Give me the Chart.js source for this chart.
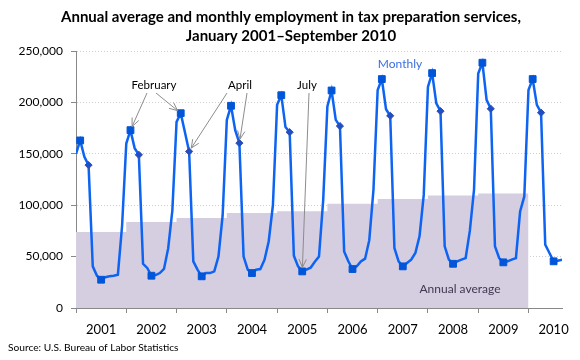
<!DOCTYPE html>
<html>
<head>
<meta charset="utf-8">
<script src="https://cdn.jsdelivr.net/npm/chart.js@4/dist/chart.umd.min.js"></script>
<style>
  html, body { margin: 0; padding: 0; background: #fff; }
  #wrap { width: 580px; height: 360px; }
</style>
</head>
<body>
<div id="wrap"><canvas id="grafik" width="580" height="360"></canvas></div>
<script>
// year labels on the x axis
const years = ["2001", "2002", "2003", "2004", "2005", "2006", "2007", "2008", "2009", "2010"];

// annual average employment, 2001-2009
const annualAvg = [74000, 83700, 87500, 92300, 94200, 101300, 106100, 109400, 111500];

// monthly employment, January 2001 - September 2010
const monthly2001 = [150000, 163000, 147000, 139000, 40500, 31400, 27500, 30000, 30800, 31400, 32400, 80000];
const monthly2002 = [160000, 173000, 155500, 149000, 43000, 39000, 31400, 32000, 34000, 38000, 58000, 95000];
const monthly2003 = [181000, 189500, 171000, 152300, 45400, 37300, 30800, 34000, 34000, 35600, 50000, 90000];
const monthly2004 = [183000, 196700, 173000, 160400, 50000, 37300, 34000, 37300, 37900, 47000, 65000, 100000];
const monthly2005 = [197600, 207000, 176000, 171000, 50900, 40500, 35600, 37300, 39200, 45000, 50000, 105000];
const monthly2006 = [196000, 211600, 183000, 177000, 55000, 45400, 37900, 40500, 45400, 48000, 66000, 115000];
const monthly2007 = [212000, 222700, 193400, 187000, 58300, 45400, 40500, 43700, 47000, 53500, 70000, 110000];
const monthly2008 = [215000, 228500, 199000, 191500, 60000, 47000, 43000, 45400, 47000, 48600, 75000, 115000];
const monthly2009 = [228000, 238600, 202500, 193800, 60000, 48600, 44400, 45400, 47000, 48600, 94000, 108500];
const monthly2010 = [212000, 222700, 197600, 190000, 61600, 53500, 45400, 46000, 47000];

const monthly = [].concat(monthly2001, monthly2002, monthly2003, monthly2004, monthly2005,
    monthly2006, monthly2007, monthly2008, monthly2009, monthly2010);

// month offsets that get a marker (Feb, Apr, Jul)
const FEB = 1, APR = 3, JUL = 6;

document.addEventListener("DOMContentLoaded", function() {
    const ctx = document.getElementById("grafik").getContext("2d");

    const monthlyPoints = monthly.map((v, i) => ({ x: i, y: v }));
    const annualPoints = annualAvg.map((v, k) => ({ x: k * 12, y: v }));
    annualPoints.push({ x: annualAvg.length * 12, y: annualAvg[annualAvg.length - 1] });

    function markerStyle(c) {
        return c.dataIndex % 12 === APR ? "rectRot" : "rect";
    }
    function markerRadius(c) {
        const m = c.dataIndex % 12;
        if (m === FEB || m === JUL) return 4.8;
        if (m === APR) return 3.6;
        return 0;
    }

    function drawArrow(c, x1, y1, x2, y2) {
        const ang = Math.atan2(y2 - y1, x2 - x1);
        const ex = x2 - Math.cos(ang) * 4, ey = y2 - Math.sin(ang) * 4;
        const head = 9, spread = 0.42;
        c.beginPath();
        c.moveTo(x1, y1);
        c.lineTo(ex, ey);
        c.moveTo(ex - head * Math.cos(ang - spread), ey - head * Math.sin(ang - spread));
        c.lineTo(ex, ey);
        c.lineTo(ex - head * Math.cos(ang + spread), ey - head * Math.sin(ang + spread));
        c.stroke();
    }

    const annotate = {
        id: "annotate",
        afterDraw(chart) {
            const c = chart.ctx;
            const xs = chart.scales.x, ys = chart.scales.y;
            const px = i => xs.getPixelForValue(i);
            const py = i => ys.getPixelForValue(monthly[i]);
            c.save();

            // title
            c.fillStyle = "#000";
            c.textAlign = "center";
            c.textBaseline = "middle";
            c.font = "bold 15px Lato";
            c.fillText("Annual average and monthly employment in tax preparation services,", 291, 17);
            c.fillText("January 2001\u2013September 2010", 291, 36);

            // year labels, centred between ticks
            c.font = "13px Lato";
            years.forEach((t, k) => c.fillText(t, px(k * 12 + 6), 330));

            // source
            c.textAlign = "left";
            c.font = "10.2px Lato";
            c.fillText("Source: U.S. Bureau of Labor Statistics", 8, 348);

            // series labels
            c.textAlign = "center";
            c.font = "12px Lato";
            c.fillStyle = "#3a6fe0";
            c.fillText("Monthly", 400, 64);
            c.fillStyle = "#3f3850";
            c.fillText("Annual average", 460, 289);

            // month labels with arrows
            c.fillStyle = "#000";
            c.font = "11.5px Lato";
            c.fillText("February", 154, 85);
            c.fillText("April", 240, 85);
            c.fillText("July", 307, 85);

            c.strokeStyle = "#8c8c8c";
            c.lineWidth = 1;
            drawArrow(c, 147, 93, px(12 + FEB), py(12 + FEB));
            drawArrow(c, 156, 93, px(24 + FEB), py(24 + FEB));
            drawArrow(c, 227, 93, px(24 + APR), py(24 + APR));
            drawArrow(c, 247, 93, px(36 + APR), py(36 + APR));
            drawArrow(c, 309, 93, px(48 + JUL), py(48 + JUL));
            c.restore();
        }
    };

    new Chart(ctx, {
        type: "line",
        data: {
            datasets: [{
                label: "Monthly",
                data: monthlyPoints,
                borderColor: "#0d63f2",
                borderWidth: 2.5,
                tension: 0,
                pointStyle: markerStyle,
                pointRadius: markerRadius,
                pointBackgroundColor: c => (c.dataIndex % 12 === APR ? "#1c50c8" : "#0055d8"),
                pointBorderColor: c => (c.dataIndex % 12 === APR ? "#3a4fa8" : "#0055d8"),
                pointBorderWidth: 1,
                order: 1
            }, {
                label: "Annual average",
                data: annualPoints,
                stepped: true,
                borderWidth: 0,
                borderColor: "rgba(0,0,0,0)",
                backgroundColor: "#d5cee1",
                fill: "origin",
                pointRadius: 0,
                order: 2
            }]
        },
        options: {
            responsive: false,
            animation: false,
            events: [],
            layout: { padding: { top: 51, left: 0, right: 18, bottom: 32 } },
            plugins: {
                legend: { display: false },
                title: { display: false },
                tooltip: { enabled: false }
            },
            scales: {
                x: {
                    type: "linear",
                    min: 0,
                    max: monthly.length - 1,
                    afterBuildTicks: s => { s.ticks = years.map((t, k) => ({ value: k * 12 })); },
                    afterFit: s => { s.height = 20; },
                    ticks: { callback: () => "", padding: 0 },
                    grid: { drawOnChartArea: false, tickLength: 5, tickColor: "#888" },
                    border: { color: "#888", width: 1 }
                },
                y: {
                    min: 0,
                    max: 250000,
                    afterFit: s => { s.width = 76; },
                    ticks: {
                        stepSize: 50000,
                        padding: 8,
                        color: "#000",
                        font: { family: "Lato", size: 12 },
                        callback: v => v.toLocaleString("en-US")
                    },
                    grid: { color: "#cfcfcf", tickLength: 5, tickColor: "#888", tickBorderDash: [] },
                    border: { color: "#888", width: 1, dash: [1, 2] }
                }
            }
        },
        plugins: [annotate]
    });
});
</script>
</body>
</html>
